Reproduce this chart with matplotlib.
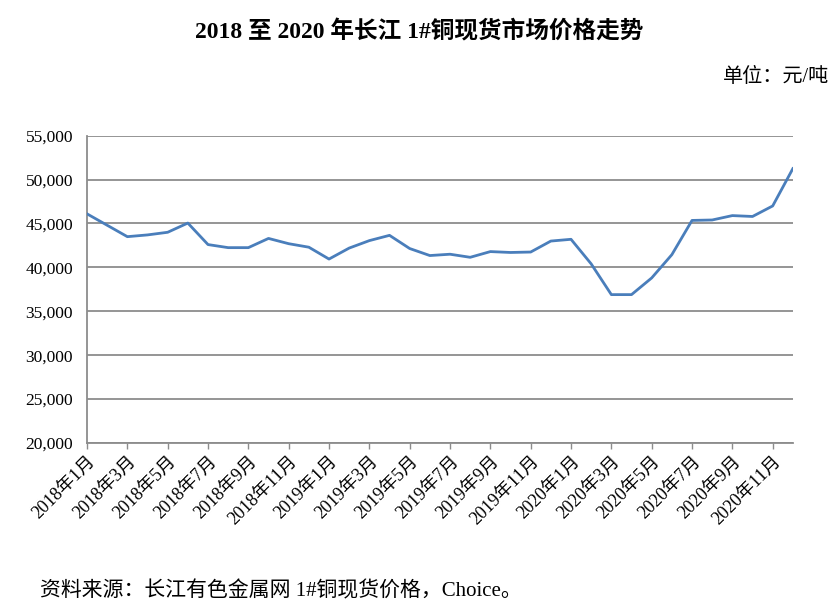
import matplotlib
matplotlib.use("Agg")
import matplotlib.pyplot as plt
from matplotlib.ticker import FuncFormatter

plt.rcParams['font.family'] = ['Liberation Serif', 'Noto Sans CJK SC', 'DejaVu Sans']

# 长江 1#铜现货月度均价 (元/吨), 2018-01 .. 2020-12
months = [f"{y}年{m}月" for y in (2018, 2019, 2020) for m in range(1, 13)]
prices = [46100, 44800, 43500, 43700, 44000, 45050, 42600, 42250, 42250, 43300, 42700, 42300,
          40950, 42200, 43050, 43650, 42150, 41350, 41500, 41150, 41800, 41700, 41750, 43000,
          43200, 40400, 36900, 36900, 38800, 41450, 45350, 45400, 45900, 45800, 47000, 51250]
yticks = [20000, 25000, 30000, 35000, 40000, 45000, 50000, 55000]

fig = plt.figure(figsize=(8.39, 6.14), dpi=100)
ax = fig.add_axes([0.1037, 0.2785, 0.8413, 0.5005])

x = list(range(len(prices)))
ax.plot(x, prices, color="#4A7EBB", linewidth=2.0, zorder=3)

ax.set_xlim(0, len(prices) - 1)
ax.set_ylim(20000, 55000)
ax.set_yticks(yticks)
ax.yaxis.set_major_formatter(FuncFormatter(lambda v, p: f"{int(v):,}"))
ax.grid(axis="y", color="#8c8c8c", linewidth=1.3)
ax.set_axisbelow(True)

ax.set_xticks(x[::2])
ax.set_xticklabels(months[::2], rotation=45, ha="right", rotation_mode="anchor", fontsize=13)
ax.tick_params(axis="x", length=4, color="#8c8c8c", width=1, pad=3)
ax.tick_params(axis="y", length=0, labelsize=12.5, pad=10)

for s in ("top", "right"):
    ax.spines[s].set_visible(False)
for s in ("left", "bottom"):
    ax.spines[s].set_color("#8c8c8c")
    ax.spines[s].set_linewidth(1.3)

fig.text(0.5, 0.948, "2018 至 2020 年长江 1#铜现货市场价格走势", ha="center", va="center",
         fontsize=17, fontweight="bold")
fig.text(0.988, 0.874, "单位：元/吨", ha="right", va="center", fontsize=14.5)
fig.text(0.048, 0.037, "资料来源：长江有色金属网 1#铜现货价格，Choice。", ha="left", va="center", fontsize=15)

fig.savefig("out.png", dpi=100)
